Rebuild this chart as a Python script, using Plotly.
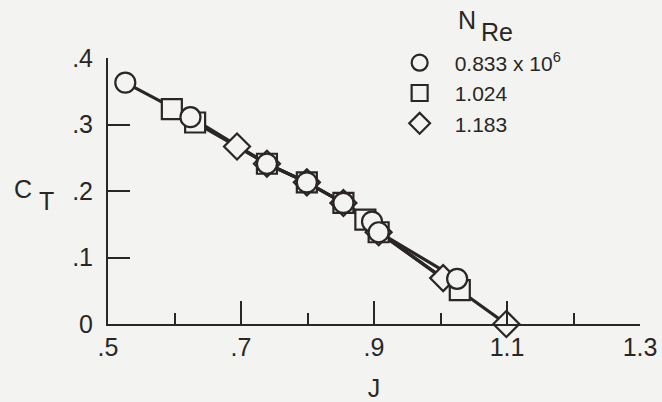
import plotly.graph_objects as go

# Data
series_names = ["0.833 x 10<sup>6</sup>", "1.024", "1.183"]
J_circle = [0.526, 0.624, 0.739, 0.799, 0.854, 0.897, 0.907, 1.025]
CT_circle = [0.363, 0.311, 0.241, 0.213, 0.182, 0.154, 0.138, 0.068]
J_square = [0.596, 0.631, 0.739, 0.799, 0.854, 0.887, 0.907, 1.029]
CT_square = [0.323, 0.303, 0.241, 0.213, 0.182, 0.157, 0.138, 0.051]
J_diamond = [0.694, 0.739, 0.799, 0.854, 0.907, 1.004, 1.099]
CT_diamond = [0.267, 0.241, 0.213, 0.182, 0.138, 0.069, 0.0]

x_tickvals = [0.5, 0.7, 0.9, 1.1, 1.3]
x_ticktext = [".5", ".7", ".9", "1.1", "1.3"]
y_tickvals = [0, 0.1, 0.2, 0.3, 0.4]
y_ticktext = ["0", ".1", ".2", ".3", ".4"]

BG = "#f3f3f2"
INK = "#2a2626"
FONT = "Liberation Sans, Arial, sans-serif"

data = [
    (J_circle, CT_circle, "circle", series_names[0], 1),
    (J_square, CT_square, "square", series_names[1], 2),
    (J_diamond, CT_diamond, "diamond", series_names[2], 3),
]

fig = go.Figure()
# lines first
for xs, ys, sym, name, rank in data:
    fig.add_trace(go.Scatter(x=xs, y=ys, mode="lines", showlegend=False,
                             line=dict(color=INK, width=3.2), hoverinfo="skip",
                             cliponaxis=False))
# markers: diamond, square, circle (circle on top)
for xs, ys, sym, name, rank in reversed(data):
    fig.add_trace(go.Scatter(x=xs, y=ys, mode="markers", name=name,
                             legendrank=rank, cliponaxis=False,
                             marker=dict(symbol=sym, size=20, color=BG,
                                         line=dict(color=INK, width=2.2))))

fig.update_layout(
    width=662, height=402,
    margin=dict(l=107.5, r=21.5, t=58.3, b=77.7, autoexpand=False),
    paper_bgcolor=BG, plot_bgcolor=BG,
    font=dict(family=FONT, size=25, color=INK),
    showlegend=True,
    legend=dict(x=0.52, y=1.058, xanchor="left", yanchor="top",
                bgcolor="rgba(0,0,0,0)", itemwidth=60,
                font=dict(size=21, color=INK), traceorder="normal"),
    xaxis=dict(range=[0.5, 1.3], showgrid=False, zeroline=False,
               automargin=False,
               showline=True, linecolor=INK, linewidth=2,
               tickmode="array", tickvals=x_tickvals, ticktext=x_ticktext,
               ticks="inside", ticklen=23, tickwidth=2, tickcolor=INK,
               minor=dict(ticks="inside", ticklen=11, tickwidth=2,
                          tickcolor=INK, dtick=0.1, tick0=0.5, showgrid=False),
               ticklabelstandoff=0,
               tickfont=dict(size=25, color=INK),
               title=dict(text="J", font=dict(size=25, color=INK), standoff=21)),
    yaxis=dict(range=[0, 0.4], showgrid=False, zeroline=False,
               automargin=False,
               showline=True, linecolor=INK, linewidth=2,
               tickmode="array", tickvals=y_tickvals, ticktext=y_ticktext,
               ticks="inside", ticklen=22, tickwidth=2, tickcolor=INK,
               ticklabelstandoff=8,
               tickfont=dict(size=25, color=INK)),
)

ann = [
    ("C", -0.1604, 0.5086),
    ("T", -0.1154, 0.4635),
    ("N", 0.6745, 1.144),
    ("Re", 0.7305, 1.099),
]
for t, x, y in ann:
    fig.add_annotation(text=t, x=x, y=y, xref="paper", yref="paper",
                       xanchor="center", yanchor="middle", showarrow=False,
                       font=dict(size=25, color=INK, family=FONT))

fig.write_html("out.html")
